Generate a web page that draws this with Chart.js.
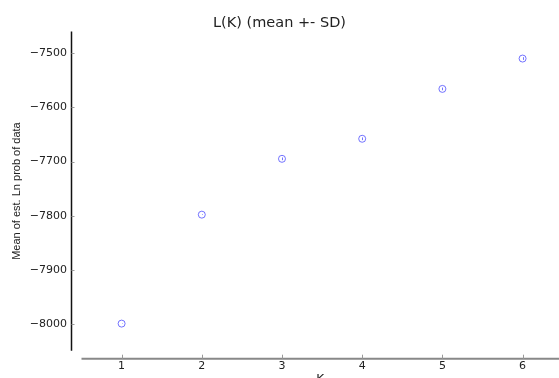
<!DOCTYPE html>
<html>
<head>
<meta charset="utf-8">
<script src="https://cdn.jsdelivr.net/npm/chart.js@4.4.1/dist/chart.umd.min.js"></script>
<style>
  html, body { margin: 0; padding: 0; background: #fff; }
  #wrap { width: 559px; height: 378px; position: relative; }
</style>
</head>
<body>
<div id="wrap"><canvas id="lk"></canvas></div>
<script>
// values
const kValues = [1, 2, 3, 4, 5, 6];
const meanLnP = [-7999, -7798, -7695, -7658, -7566, -7510];
const sdLnP = [0.4, 0.6, 2.5, 2.5, 2.5, 2.5];
const xTicks = [1, 2, 3, 4, 5, 6];
const yTicks = [-8000, -7900, -7800, -7700, -7600, -7500];

const pointColor = 'rgba(70, 70, 255, 0.75)';

// matplotlib style detached spines with inward ticks
const spines = {
  id: 'spines',
  afterDraw(chart) {
    const { ctx, chartArea, scales: { x, y } } = chart;
    ctx.save();
    const sx = chartArea.left - 10;
    ctx.strokeStyle = '#111';
    ctx.lineWidth = 1.5;
    ctx.beginPath();
    ctx.moveTo(sx, chartArea.top);
    ctx.lineTo(sx, chartArea.bottom);
    ctx.stroke();
    ctx.strokeStyle = '#999';
    ctx.lineWidth = 1;
    yTicks.forEach(v => {
      const py = Math.round(y.getPixelForValue(v)) + 0.5;
      ctx.beginPath();
      ctx.moveTo(sx, py);
      ctx.lineTo(sx + 3, py);
      ctx.stroke();
    });
    const sy = chartArea.bottom + 8;
    ctx.strokeStyle = '#888';
    ctx.lineWidth = 2;
    ctx.beginPath();
    ctx.moveTo(chartArea.left, sy);
    ctx.lineTo(chartArea.right, sy);
    ctx.stroke();
    ctx.strokeStyle = '#999';
    ctx.lineWidth = 1;
    xTicks.forEach(v => {
      const px = Math.round(x.getPixelForValue(v)) + 0.5;
      ctx.beginPath();
      ctx.moveTo(px, sy);
      ctx.lineTo(px, sy - 4);
      ctx.stroke();
    });
    ctx.restore();
  }
};

// the +- SD bars, tiny, inside each marker
const sdBars = {
  id: 'sdBars',
  afterDatasetsDraw(chart) {
    const { ctx, scales: { x, y } } = chart;
    ctx.save();
    ctx.strokeStyle = pointColor;
    ctx.lineWidth = 1;
    kValues.forEach((k, i) => {
      const px = Math.round(x.getPixelForValue(k)) + 0.5;
      ctx.beginPath();
      ctx.moveTo(px, y.getPixelForValue(meanLnP[i] - sdLnP[i]));
      ctx.lineTo(px, y.getPixelForValue(meanLnP[i] + sdLnP[i]));
      ctx.stroke();
    });
    ctx.restore();
  }
};

const cfg = {
  type: 'scatter',
  data: {
    datasets: [{
      label: 'L(K)',
      data: kValues.map((k, i) => ({ x: k, y: meanLnP[i] })),
      pointStyle: 'circle',
      pointRadius: 3.5,
      borderWidth: 1,
      borderColor: pointColor,
      backgroundColor: 'rgba(0,0,0,0)',
    }],
  },
  options: {
    responsive: true,
    maintainAspectRatio: false,
    animation: false,
    layout: { autoPadding: false, padding: 0 },
    plugins: {
      legend: { display: false },
      tooltip: { enabled: false },
      title: {
        display: true,
        text: 'L(K) (mean +- SD)',
        color: '#222',
        font: { family: 'DejaVu Sans', size: 14.5, weight: 'normal', lineHeight: 1.1 },
        padding: { top: 15.5, bottom: 0 },
      },
    },
    scales: {
      x: {
        type: 'linear',
        min: 0.5,
        max: 6.454,
        afterBuildTicks: s => { s.ticks = xTicks.map(v => ({ value: v })); },
        afterFit: s => { s.height = 27.3; s.paddingLeft = 0; s.paddingRight = 0; },
        grid: { display: false, drawTicks: false },
        border: { display: false },
        ticks: {
          color: '#222',
          padding: 9,
          font: { family: 'DejaVu Sans', size: 11 },
        },
        title: {
          display: true,
          text: 'K',
          color: '#222',
          font: { family: 'DejaVu Sans', size: 12 },
          padding: { top: 0, bottom: -9 },
        },
      },
      y: {
        type: 'linear',
        min: -8049,
        max: -7460,
        afterBuildTicks: s => { s.ticks = yTicks.map(v => ({ value: v })); },
        afterFit: s => { s.width = 81.5; s.paddingTop = 0; s.paddingBottom = 0; },
        grid: { display: false, drawTicks: false },
        border: { display: false },
        ticks: {
          color: '#222',
          padding: 14.5,
          font: { family: 'DejaVu Sans', size: 11 },
          callback: v => String(v).replace('-', '\u2212'),
        },
        title: {
          display: true,
          text: 'Mean of est. Ln prob of data',
          color: '#222',
          font: { family: 'Liberation Sans', size: 11 },
          padding: { top: 10.5, bottom: 0 },
        },
      },
    },
  },
  plugins: [spines, sdBars],
};

const lkCtx = document.getElementById('lk');
window.lkChart = new Chart(lkCtx, cfg);
</script>
</body>
</html>
